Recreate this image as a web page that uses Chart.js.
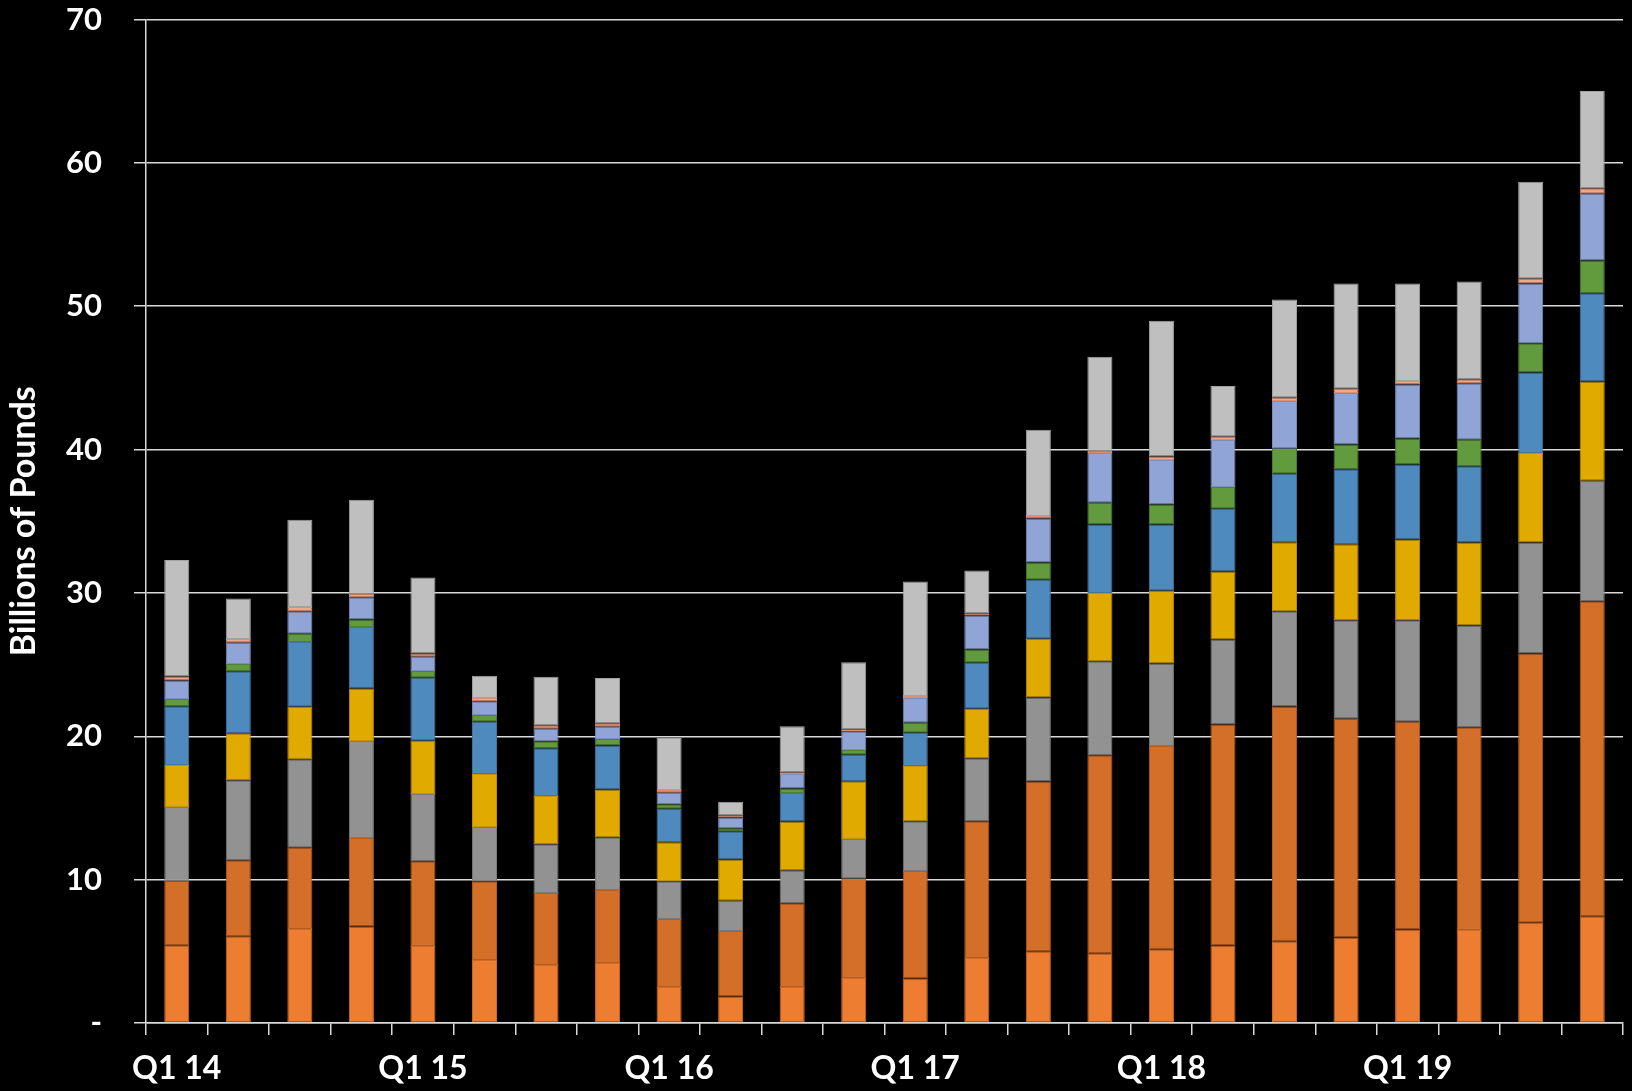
<!DOCTYPE html>
<html>
<head>
<meta charset="utf-8">
<script src="https://cdn.jsdelivr.net/npm/chart.js@4"></script>
<style>
html,body{margin:0;padding:0;background:#000;}
#wrap{width:1632px;height:1091px;}
</style>
</head>
<body>
<div id="wrap"><canvas id="c" width="1632" height="1091"></canvas></div>
<script>
const categories = ["Q1 14","Q2 14","Q3 14","Q4 14","Q1 15","Q2 15","Q3 15","Q4 15","Q1 16","Q2 16","Q3 16","Q4 16","Q1 17","Q2 17","Q3 17","Q4 17","Q1 18","Q2 18","Q3 18","Q4 18","Q1 19","Q2 19","Q3 19","Q4 19"];
const tickLabelsShown = ["Q1 14","Q1 15","Q1 16","Q1 17","Q1 18","Q1 19"];
const yTicks = [0,10,20,30,40,50,60,70];

const series1 = [5.43,6.06,6.55,6.73,5.37,4.39,4.04,4.18,2.51,1.85,2.51,3.14,3.11,4.53,5.00,4.86,5.15,5.41,5.70,5.97,6.52,6.48,6.99,7.45];
const series2 = [4.49,5.30,5.67,6.18,5.92,5.50,5.02,5.09,4.74,4.56,5.85,6.92,7.50,9.55,11.84,13.82,14.17,15.41,16.38,15.25,14.49,14.15,18.79,21.97];
const series3 = [5.15,5.57,6.18,6.76,4.69,3.79,3.41,3.69,2.64,2.11,2.30,2.78,3.47,4.39,5.87,6.55,5.75,5.93,6.65,6.88,7.09,7.09,7.73,8.40];
const series4 = [2.93,3.28,3.66,3.67,3.71,3.69,3.37,3.32,2.72,2.88,3.39,4.02,3.85,3.45,4.09,4.77,5.09,4.74,4.80,5.29,5.62,5.79,6.25,6.93];
const series5 = [4.10,4.32,4.51,4.28,4.39,3.65,3.32,3.07,2.34,1.98,2.00,1.86,2.32,3.21,4.12,4.77,4.61,4.38,4.78,5.23,5.24,5.32,5.62,6.16];
const series6 = [0.50,0.51,0.58,0.53,0.47,0.46,0.49,0.46,0.31,0.21,0.30,0.33,0.70,0.93,1.20,1.52,1.39,1.52,1.75,1.74,1.81,1.86,2.03,2.28];
const series7 = [1.30,1.48,1.58,1.54,1.00,0.96,0.88,0.86,0.81,0.74,1.02,1.30,1.72,2.37,3.08,3.47,3.12,3.28,3.33,3.58,3.77,3.93,4.18,4.65];
const series8 = [0.27,0.26,0.28,0.25,0.23,0.23,0.24,0.24,0.19,0.16,0.12,0.14,0.14,0.16,0.16,0.16,0.23,0.23,0.23,0.30,0.25,0.29,0.33,0.38];
const series9 = [8.13,2.84,6.10,6.56,5.30,1.55,3.38,3.15,3.62,0.95,3.21,4.67,7.99,2.98,6.03,6.56,9.47,3.53,6.85,7.35,6.80,6.81,6.76,6.80];

const seriesList = [series1,series2,series3,series4,series5,series6,series7,series8,series9];
const seriesNames = ["Series 1","Series 2","Series 3","Series 4","Series 5","Series 6","Series 7","Series 8","Series 9"];
const fills = ["#ED7D31","#D46F2A","#929292","#E1AA00","#4F8ABE","#619B3D","#90A4D6","#F3A789","#BFBFBF"];
const borders = ["#D06A25","#B55D20","#7A7A7A","#C49300","#43769F","#527F33","#7D8EBB","#DB8E70","#A3A3A3"];

function draw(){
  const datasets = seriesList.map((d,i)=>({
    label: seriesNames[i],
    data: d,
    backgroundColor: fills[i],
    borderColor: borders[i],
    borderWidth: 1,
    borderSkipped: false,
    categoryPercentage: 1.0,
    barPercentage: 0.407
  }));
  new Chart(document.getElementById('c'), {
    type: 'bar',
    data: { labels: categories, datasets },
    options: {
      responsive: false,
      animation: false,
      devicePixelRatio: 1,
      layout: { padding: { top: 19.5, right: 9, bottom: 0, left: 0 } },
      plugins: { legend: { display: false }, tooltip: { enabled: false } },
      scales: {
        x: {
          stacked: true,
          grid: { display: true, drawOnChartArea: false, color: '#D9D9D9', lineWidth: 1.5, tickLength: 12 },
          border: { display: true, color: '#D9D9D9', width: 1.5 },
          ticks: {
            color: '#FFFFFF',
            font: { family: 'Lato', weight: 'bold', size: 32 },
            autoSkip: false, maxRotation: 0, minRotation: 0,
            padding: 14,
            callback: function(v, i){ const l = categories[i]; return tickLabelsShown.includes(l) ? l : ''; }
          },
          afterFit: function(s){ s.height = 68; s.paddingLeft = 0; s.paddingRight = 0; }
        },
        y: {
          stacked: true,
          min: 0, max: 70,
          afterBuildTicks: function(s){ s.ticks = yTicks.map(v=>({value:v})); },
          grid: { color: '#D9D9D9', lineWidth: 1.5, tickLength: 12 },
          border: { display: true, color: '#D9D9D9', width: 1.5 },
          ticks: {
            color: '#FFFFFF',
            font: { family: 'Lato', weight: 'bold', size: 31 },
            padding: 32,
            callback: function(v){ return v === 0 ? '-' : String(v); }
          },
          title: {
            display: true, text: 'Billions of Pounds', color: '#FFFFFF',
            font: { family: 'Lato', weight: 'bold', size: 34 },
            padding: { top: 4, bottom: 0 }
          },
          afterFit: function(s){ s.width = 146; s.paddingTop = 0; s.paddingBottom = 0; }
        }
      }
    }
  });
}
if (document.fonts && document.fonts.load) {
  document.fonts.load('bold 32px Lato').then(draw, draw);
} else { draw(); }
</script>
</body>
</html>
